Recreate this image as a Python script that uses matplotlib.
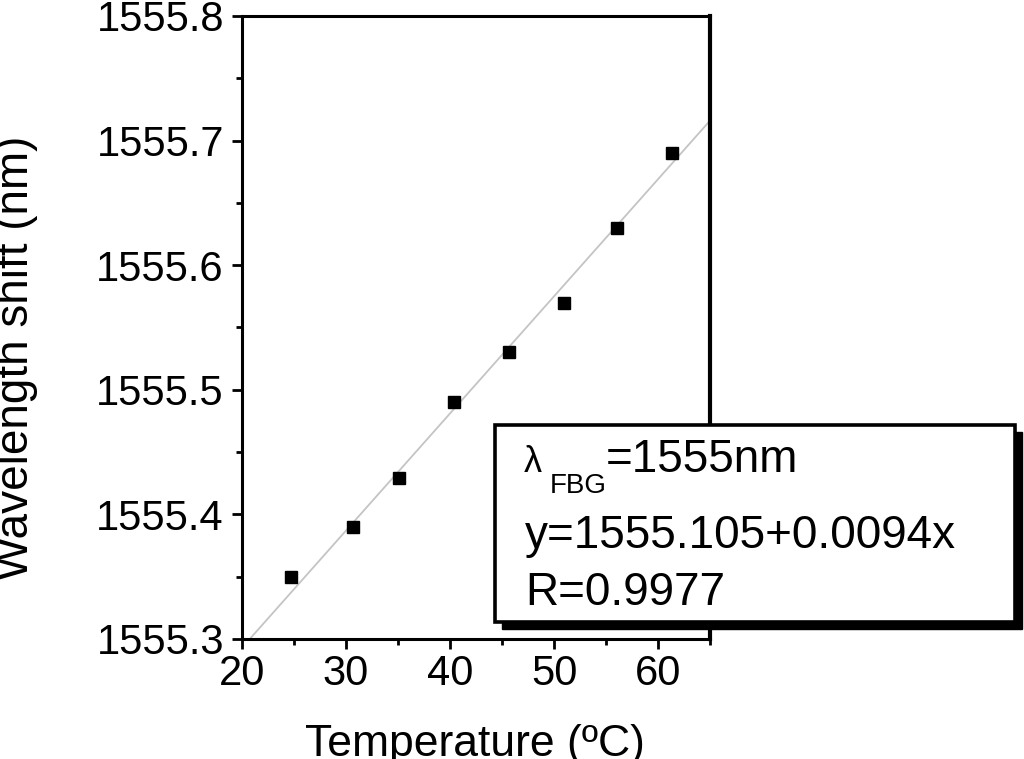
import matplotlib
matplotlib.use("Agg")
import matplotlib.pyplot as plt
from matplotlib.patches import Rectangle
from matplotlib.ticker import MultipleLocator, FormatStrFormatter
import numpy as np

plt.rcParams['font.family'] = ['Liberation Sans', 'DejaVu Sans']

# Data
temperature = [24.7, 30.7, 35.1, 40.4, 45.7, 51.0, 56.1, 61.3]
wavelength = [1555.35, 1555.39, 1555.429, 1555.49, 1555.53, 1555.57, 1555.63, 1555.69]
fit_intercept = 1555.105
fit_slope = 0.0094
fit_x = [20, 65]
legend_lines = ['y=1555.105+0.0094x', 'R=0.9977']

W, H = 1024, 759
fig = plt.figure(figsize=(W / 100, H / 100), dpi=100)
ax = fig.add_axes([242 / W, 1 - 639 / H, (710 - 242) / W, (639 - 16) / H])

fx = np.array(fit_x, dtype=float)
ax.plot(fx, fit_intercept + fit_slope * fx, color='#c4c4c4', lw=1.3, zorder=2)
ax.plot(temperature, wavelength, 's', color='black', ms=8, zorder=3)

ax.set_xlim(20, 65)
ax.set_ylim(1555.3, 1555.8)
ax.xaxis.set_major_locator(MultipleLocator(10))
ax.xaxis.set_minor_locator(MultipleLocator(5))
ax.yaxis.set_major_locator(MultipleLocator(0.1))
ax.yaxis.set_minor_locator(MultipleLocator(0.05))
ax.yaxis.set_major_formatter(FormatStrFormatter('%.1f'))

for s in ['left', 'bottom', 'top']:
    ax.spines[s].set_linewidth(2.2)
ax.spines['right'].set_linewidth(3.0)

ax.tick_params(which='major', direction='out', length=7, width=2.0, labelsize=30, pad=4)
ax.tick_params(which='minor', direction='out', length=4, width=2.0)
ax.tick_params(axis='y', which='major', pad=6)
ax.tick_params(top=False, right=False, which='both')

fig.text(16 / W, 1 - 358 / H, 'Wavelength shift (nm)', rotation=90,
         ha='center', va='center', fontsize=33)
fig.text(475 / W, 1 - 756 / H, 'Temperature (ºC)', ha='center', va='baseline', fontsize=32)

# Annotation box with shadow
bx0, by0, bx1, by1 = 495, 425, 1015, 622
off = 7
shadow = Rectangle(((bx0 + off) / W, 1 - (by1 + off) / H), (bx1 - bx0) / W, (by1 - by0) / H,
                   transform=fig.transFigure, facecolor='black', edgecolor='black', zorder=5)
box = Rectangle((bx0 / W, 1 - by1 / H), (bx1 - bx0) / W, (by1 - by0) / H,
                transform=fig.transFigure, facecolor='white', edgecolor='black', lw=2.6, zorder=6)
fig.add_artist(shadow)
fig.add_artist(box)

# first line: lambda with subscript FBG
fig.text(524 / W, 1 - 472 / H, 'λ', ha='left', va='baseline', fontsize=26, zorder=7)
fig.text(550 / W, 1 - 493 / H, 'FBG', ha='left', va='baseline', fontsize=20, zorder=7)
fig.text(606 / W, 1 - 472 / H, '=1555nm', ha='left', va='baseline', fontsize=33, zorder=7)

baselines = [548, 605]
for txt, yb in zip(legend_lines, baselines):
    fig.text(525 / W, 1 - yb / H, txt, ha='left', va='baseline', fontsize=33, zorder=7)

fig.savefig('out.png', dpi=100)
